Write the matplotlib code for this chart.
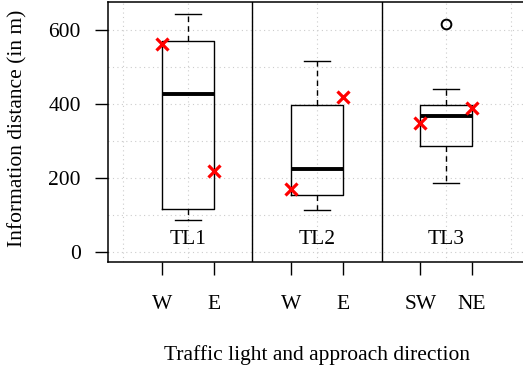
import matplotlib
matplotlib.use("Agg")
import matplotlib.pyplot as plt
import numpy as np

plt.rcParams['font.family'] = ['Liberation Serif', 'DejaVu Serif']

# ---- data ----
groups = ["TL1", "TL2", "TL3"]
dir_labels = ["W", "E", "W", "E", "SW", "NE"]
box_q1 = [116, 155, 287]
box_med = [427, 224, 369]
box_q3 = [571, 397, 398]
whisk_lo = [88, 114, 187]
whisk_hi = [643, 516, 442]
outliers = [[], [], [617]]
dir_values = [562, 221, 171, 420, 349, 390]

fig = plt.figure(figsize=(5.23, 3.74), dpi=100)
ax = fig.add_axes([108/523, 1-262/374, 418/523, 260/374])

pos = np.arange(1, len(groups)+1)
stats = []
for i in range(len(groups)):
    stats.append(dict(med=box_med[i], q1=box_q1[i], q3=box_q3[i],
                      whislo=whisk_lo[i], whishi=whisk_hi[i], fliers=outliers[i]))
ax.bxp(stats, positions=pos, widths=0.4, showfliers=True,
       boxprops=dict(color='black', linewidth=1.0),
       medianprops=dict(color='black', linewidth=2.8, solid_capstyle='butt'),
       whiskerprops=dict(color='black', linewidth=1.0, linestyle=(0, (4, 3))),
       capprops=dict(color='black', linewidth=1.0),
       capwidths=0.2,
       flierprops=dict(marker='o', markerfacecolor='none', markeredgecolor='black',
                       markersize=7, markeredgewidth=1.4),
       zorder=3)

xpos = np.concatenate([[p - 0.2, p + 0.2] for p in pos])
ax.plot(xpos, dir_values, linestyle='none', marker='x', color='#ff0000',
        markersize=9, markeredgewidth=2.3, zorder=4)

ax.set_xlim(0.38, 3.62)
ax.set_ylim(-26, 676)

# grid
for gx in np.arange(0.5, 3.51, 0.5):
    ax.axvline(gx, color='#cccccc', linestyle=(0, (1, 3)), linewidth=0.8, zorder=0)
for gy in np.arange(0, 601, 100):
    ax.axhline(gy, color='#cccccc', linestyle=(0, (1, 3)), linewidth=0.8, zorder=0)

for d in [1.5, 2.5]:
    ax.axvline(d, color='black', linewidth=1.0, zorder=2)

fs = 15.5
for p, g in zip(pos, groups):
    ax.text(p, 35, g, ha='center', va='center', fontsize=fs)

ax.set_xticks(xpos)
ax.set_xticklabels(dir_labels, fontsize=fs)
ax.set_yticks([0, 200, 400, 600])
ax.set_yticklabels(['0', '200', '400', '600'], fontsize=fs)
ax.tick_params(axis='x', length=9.5, width=1.0, pad=14)
ax.tick_params(axis='y', length=9.5, width=1.0, pad=10)
for s in ['left', 'top', 'bottom', 'right']:
    ax.spines[s].set_linewidth(1.1)

fig.text(317/523, 1-355/374, "Traffic light and approach direction",
         ha='center', va='center', fontsize=fs)
fig.text(18/523, 1-128/374, "Information distance (in m)",
         ha='center', va='center', rotation=90, fontsize=fs)

fig.savefig("out.png", dpi=100)
